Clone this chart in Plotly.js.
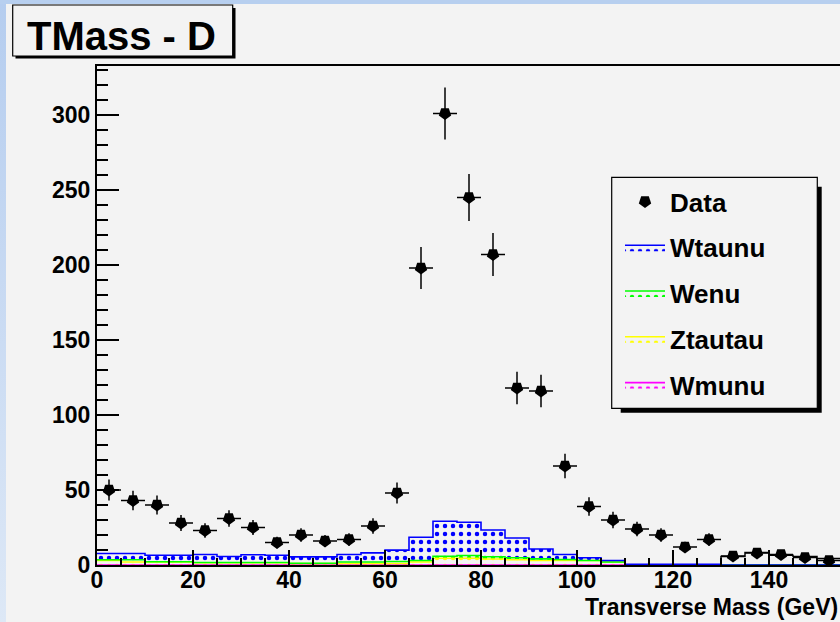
<!DOCTYPE html>
<html><head><meta charset="utf-8">
<script src="https://cdn.plot.ly/plotly-3.0.1.min.js"></script>
<style>
html,body{margin:0;padding:0;width:840px;height:622px;overflow:hidden;background:#f3f3f3;}
#left{position:absolute;left:0;top:0;width:6px;height:622px;background:linear-gradient(#b5cdef,#dde8f6);}
#top{position:absolute;left:0;top:0;width:840px;height:4px;background:#b7cfef;}
#chart{position:absolute;left:0;top:0;width:840px;height:622px;}
</style></head><body>
<div id="left"></div><div id="top"></div><div id="chart"></div>
<script>
// ---- data ----
const binWidth = 5;
const binLowEdges = [0,5,10,15,20,25,30,35,40,45,50,55,60,65,70,75,80,85,90,95,100,105,110,115,120,125,130,135,140,145,150];
const dataCounts = [50,43,40,28,23,31,25,15,20,16,17,26,48,198,301,245,207,118,116,66,39,30,24,20,12,17,6,8,7,5,3];
const wtaunu  = [4.2,4.2,4.3,4.3,5.3,4.0,5.1,4.8,4.2,4.2,5.0,6.1,7.6,15.5,23.4,22.2,17.8,13.2,6.6,3.3,1.8,1.0,0.5,0.5,0.5,0.5,0,0,0,0,0];
const wenu    = [0.5,1.5,0.2,0.2,0.2,0.2,0.2,0.2,0.2,0.2,1.0,1.0,1.3,1.0,1.3,1.8,1.5,1.3,1.1,0.7,0,0,0,0,0,0,0,0,0,0,0];
const ztautau = [3,2,2,2,1.5,1.5,1.5,1.5,1,1,1,1,1,2,4.5,4.5,4,3.5,3,3,3,2,0,0,0,0,0,0,0,0,0];
const wmunu   = [0,0,0,0,0,0,0,0,0,0,0,0,0,0,0,0,0,0,0,0,0,0,0,0,0,0,0,0,0,0,0];
const otherLowEdges = [130,135,140,145,150];
const otherCounts = [5.6,8.3,6.5,5.6,4.3];
const seriesNames = ['Data','Wtaunu','Wenu','Ztautau','Wmunu'];
const titleText = 'TMass - D';
const xTitleText = 'Transverse Mass (GeV)';

// ---- geometry helpers ----
const L = 97, T = 66, W = 743, H = 499;
const px = p => (p - L) / W;
const py = p => (T + H - p) / H;
const F = 'Liberation Sans, Arial, Helvetica, sans-serif';

const stepX = e => e.concat([e[e.length - 1] + binWidth]);
const stepY = v => v.concat([v[v.length - 1]]);
const centers = binLowEdges.map(e => e + binWidth / 2);

function stackTrace(name, vals, color, rank) {
  return {
    type: 'scatter', mode: 'lines', name: name,
    x: stepX(binLowEdges), y: stepY(vals),
    stackgroup: 'mc',
    line: {shape: 'hv', color: color, width: 1.6},
    fillcolor: 'rgba(0,0,0,0)',
    fillpattern: {shape: '.', fgcolor: color, bgcolor: 'rgba(0,0,0,0)', size: 8, solidity: 0.25},
    legendrank: rank, legendgroup: name, hoverinfo: 'skip'
  };
}

const traces = [
  stackTrace(seriesNames[4], wmunu, '#ff00ff', 5),
  stackTrace(seriesNames[3], ztautau, '#ffff00', 4),
  stackTrace(seriesNames[2], wenu, '#00ff00', 3),
  stackTrace(seriesNames[1], wtaunu, '#0000ff', 2),
  {
    type: 'scatter', mode: 'lines', name: 'other', showlegend: false,
    x: [otherLowEdges[0]].concat(stepX(otherLowEdges)),
    y: [0].concat(stepY(otherCounts)),
    line: {shape: 'hv', color: 'black', width: 1.5}, hoverinfo: 'skip'
  },
  {
    type: 'scatter', mode: 'markers', name: seriesNames[0],
    x: centers, y: dataCounts,
    marker: {symbol: 'pentagon', angle: 180, size: 13, color: 'black'},
    error_y: {type: 'data', array: dataCounts.map(Math.sqrt), color: 'black', thickness: 1.5, width: 0},
    error_x: {type: 'constant', value: binWidth / 2, color: 'black', thickness: 1.5, width: 0},
    legendrank: 1, legendgroup: 'Data'
  }
];

const tickFont = {family: F, size: 23, weight: 'bold', color: 'black'};
const layout = {
  width: 840, height: 622,
  margin: {l: L, r: 840 - L - W, t: T, b: 622 - T - H},
  paper_bgcolor: 'rgba(0,0,0,0)', plot_bgcolor: 'rgba(0,0,0,0)',
  showlegend: true,
  xaxis: {
    range: [0, W / 4.8], showline: true, linewidth: 2, linecolor: 'black', mirror: true,
    ticks: 'inside', ticklen: 15, tickwidth: 1.5, tickcolor: 'black', tick0: 0, dtick: 20,
    minor: {dtick: 5, ticks: 'inside', ticklen: 7, tickwidth: 1.5, tickcolor: 'black'},
    showgrid: false, zeroline: false, tickfont: tickFont, fixedrange: true,
    ticklabelstandoff: -7
  },
  yaxis: {
    range: [0, H / 1.5], showline: true, linewidth: 2, linecolor: 'black', mirror: true,
    ticks: 'inside', ticklen: 22, tickwidth: 1.5, tickcolor: 'black', tick0: 0, dtick: 50,
    minor: {dtick: 10, ticks: 'inside', ticklen: 11, tickwidth: 1.5, tickcolor: 'black'},
    showgrid: false, zeroline: false, tickfont: tickFont, fixedrange: true
  },
  legend: {
    x: px(620), y: py(178), xanchor: 'left', yanchor: 'top',
    bgcolor: 'rgba(0,0,0,0)', borderwidth: 0,
    font: {family: F, size: 26, weight: 'bold', color: 'black'},
    traceorder: 'grouped', tracegroupgap: 9, itemwidth: 40
  },
  shapes: [
    {type: 'rect', xref: 'paper', yref: 'paper', x0: px(15.5), x1: px(235.5), y0: py(8), y1: py(58.5),
     fillcolor: 'black', line: {width: 0}, layer: 'above'},
    {type: 'rect', xref: 'paper', yref: 'paper', x0: px(12.7), x1: px(232.7), y0: py(5), y1: py(56),
     fillcolor: '#f3f3f3', line: {color: 'black', width: 1.2}, layer: 'above'},
    {type: 'rect', xref: 'paper', yref: 'paper', x0: px(620.7), x1: px(821.7), y0: py(186.7), y1: py(412.7),
     fillcolor: 'black', line: {width: 0}, layer: 'above'},
    {type: 'rect', xref: 'paper', yref: 'paper', x0: px(611.7), x1: px(817.3), y0: py(177.3), y1: py(408.3),
     fillcolor: '#f3f3f3', line: {color: 'black', width: 1.2}, layer: 'above'}
  ],
  annotations: [
    {text: titleText, xref: 'paper', yref: 'paper', x: px(121), y: py(36), xanchor: 'center', yanchor: 'middle',
     showarrow: false, font: {family: F, size: 40, weight: 'bold', color: 'black'}},
    {text: xTitleText, xref: 'paper', yref: 'paper', x: 1, y: py(607), xanchor: 'right', yanchor: 'middle',
     showarrow: false, font: {family: F, size: 23, weight: 'bold', color: 'black'}}
  ]
};

Plotly.newPlot('chart', traces, layout, {staticPlot: true, displayModeBar: false});
</script>
</body></html>
